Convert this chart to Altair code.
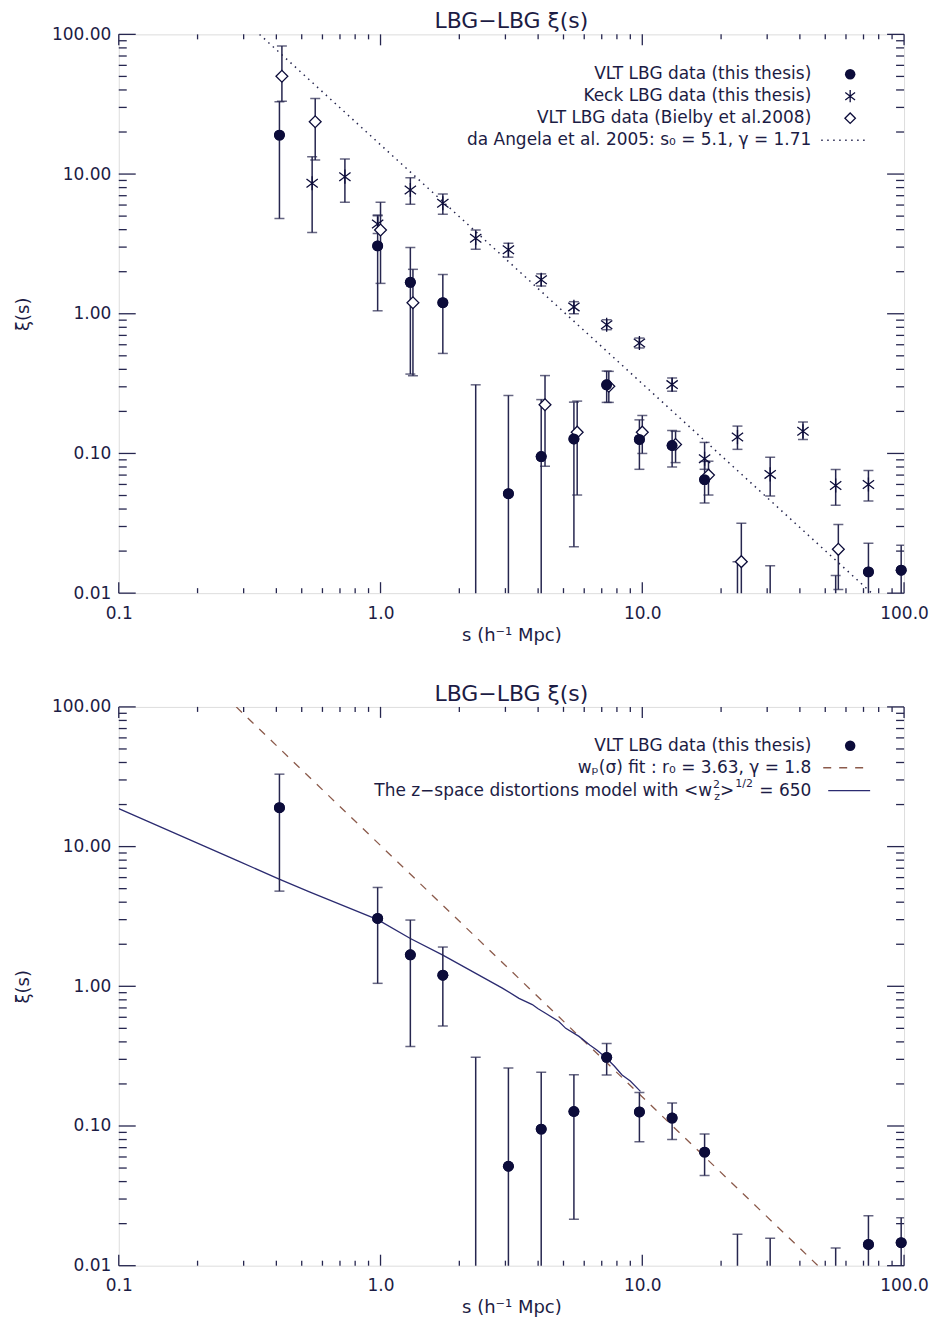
import altair as alt
import pandas as pd

# ---------------- data ----------------
# VLT LBG data (this thesis). None = no point drawn; 0.001 = error bar runs below the axis
vlt_s = [0.411, 0.975, 1.30, 1.73, 2.31, 3.08, 4.11, 5.48, 7.31, 9.75, 13.0, 17.3, 23.1, 30.8, 54.8, 73.1, 97.5]
vlt_xi = [19.0, 3.06, 1.68, 1.20, None, 0.0515, 0.095, 0.127, 0.31, 0.126, 0.114, 0.065, None, None, None, 0.0142, 0.0146]
vlt_lo = [4.8, 1.05, 0.37, 0.52, 0.001, 0.001, 0.001, 0.0215, 0.232, 0.077, 0.080, 0.0442, 0.001, 0.001, 0.001, 0.001, 0.001]
vlt_hi = [33.0, 5.1, 2.98, 1.91, 0.31, 0.26, 0.243, 0.233, 0.389, 0.174, 0.146, 0.0877, 0.0168, 0.0157, 0.0134, 0.0228, 0.022]

# Keck LBG data (this thesis)
keck_s = [0.548, 0.731, 0.975, 1.30, 1.73, 2.31, 3.08, 4.11, 5.48, 7.31, 9.75, 13.0, 17.3, 23.1, 30.8, 41.1, 54.8, 73.1]
keck_xi = [8.6, 9.58, 4.39, 7.69, 6.18, 3.47, 2.87, 1.75, 1.12, 0.834, 0.618, 0.311, 0.0917, 0.131, 0.0708, 0.144, 0.059, 0.060]
keck_lo = [3.81, 6.28, 3.75, 6.08, 5.15, 2.90, 2.54, 1.58, 1.0, 0.769, 0.569, 0.279, 0.077, 0.107, 0.0496, 0.126, 0.0425, 0.0456]
keck_hi = [13.3, 12.8, 5.03, 9.42, 7.2, 3.98, 3.2, 1.93, 1.22, 0.906, 0.67, 0.347, 0.12, 0.157, 0.094, 0.168, 0.0769, 0.0756]

# VLT LBG data (Bielby et al. 2008)
biel_s = [0.42, 0.563, 1.0, 1.33, 4.25, 5.64, 7.45, 10.0, 13.4, 17.9, 23.9, 56.1]
biel_xi = [50.1, 23.7, 3.98, 1.2, 0.223, 0.142, 0.303, 0.142, 0.116, 0.07, 0.0168, 0.0206]
biel_lo = [33.2, 12.6, 1.65, 0.36, 0.081, 0.0504, 0.232, 0.1, 0.086, 0.0504, 0.001, 0.0106]
biel_hi = [82.5, 34.8, 6.28, 2.08, 0.361, 0.237, 0.387, 0.187, 0.144, 0.088, 0.0316, 0.031]

# da Angela et al. 2005 power law (end points where it crosses the frame)
angela_s = [0.345, 75.3]
angela_xi = [100.0, 0.01]
# w_p(sigma) fit (end points where it crosses the frame)
wp_s = [0.281, 46.9]
wp_xi = [100.0, 0.01]
# z-space distortions model
zs_s = [0.1, 0.288, 0.41, 0.535, 0.975, 1.30, 1.73, 2.92, 3.38, 3.8, 4.0, 4.27, 4.8, 5.1, 5.73, 6.3, 6.7, 7.23, 7.8, 8.37, 9.0, 9.84]
zs_xi = [18.7, 7.85, 5.85, 4.74, 3.0, 2.2, 1.67, 0.97, 0.82, 0.74, 0.69, 0.641, 0.56, 0.50, 0.438, 0.38, 0.35, 0.31, 0.27, 0.232, 0.21, 0.177]

# axis ticks
major_x = [0.1, 1.0, 10.0, 100.0]
minor_x = [0.2, 0.3, 0.4, 0.5, 0.6, 0.7, 0.8, 0.9, 2, 3, 4, 5, 6, 7, 8, 9, 20, 30, 40, 50, 60, 70, 80, 90]
major_y = [0.01, 0.1, 1.0, 10.0, 100.0]
minor_y = [0.02, 0.03, 0.04, 0.05, 0.06, 0.07, 0.08, 0.09, 0.2, 0.3, 0.4, 0.5, 0.6, 0.7, 0.8, 0.9,
           2, 3, 4, 5, 6, 7, 8, 9, 20, 30, 40, 50, 60, 70, 80, 90]

title_txt = "LBG\u2212LBG \u03be(s)"
legend_top = ["VLT LBG data (this thesis)", "Keck LBG data (this thesis)",
              "VLT LBG data (Bielby et al.2008)", "da Angela et al. 2005: s\u2080 = 5.1, \u03b3 = 1.71"]
legend_bot = ["VLT LBG data (this thesis)", "w\u209a(\u03c3) fit : r\u2080 = 3.63, \u03b3 = 1.8"]
legend_bot3 = ["The z\u2212space distortions model with <w", "2", "z", ">", "1/2", " = 650"]

# ---------------- styling ----------------
W, H = 787, 560
FONT = "DejaVu Sans"
AX = "#26264f"
PT = "#0c0c3a"
TX = "#1c1c44"
BROWN = "#8b5a4b"
MODEL = "#2b2b70"
ASTER = "M0,-1L0,1M-0.8,-0.6L0.8,0.6M-0.8,0.6L0.8,-0.6"

xs = alt.Scale(type="log", domain=[0.1, 100], nice=False)
ys = alt.Scale(type="log", domain=[0.01, 100], nice=False)

x_axis = alt.Axis(values=major_x, format=".1f", ticks=False, domain=False, grid=False,
                  labelFlush=False, labelOverlap=False, labelBound=False,
                  labelFont=FONT, labelFontSize=17, labelColor=TX, labelPadding=12,
                  title="s (h\u207b\u00b9 Mpc)", titleFont=FONT, titleFontSize=18,
                  titleFontWeight="normal", titleColor=TX, titlePadding=5)
y_axis = alt.Axis(values=major_y, format=".2f", ticks=False, domain=False, grid=False,
                  labelFlush=False, labelOverlap=False, labelBound=False,
                  labelFont=FONT, labelFontSize=17, labelColor=TX, labelPadding=8,
                  title="\u03be(s)", titleFont=FONT, titleFontSize=18,
                  titleFontWeight="normal", titleColor=TX, titlePadding=19)


def X(f):
    return alt.X(f, scale=xs, axis=x_axis)


def Y(f):
    return alt.Y(f, scale=ys, axis=y_axis)


def df3(s, xi, lo, hi):
    return pd.DataFrame({"s": s, "xi": xi, "lo": lo, "hi": hi})


def tick_layers():
    out = []
    for vals, ln in ((major_x, 11), (minor_x, 5)):
        d = pd.DataFrame({"v": vals})
        for y0, y1 in ((H, H - ln), (0, ln)):
            out.append(alt.Chart(d).mark_rule(color=AX, strokeWidth=1.3).encode(
                x=X("v:Q"), y=alt.value(y0), y2=alt.value(y1)))
    for vals, ln in ((major_y, 17), (minor_y, 8)):
        d = pd.DataFrame({"v": vals})
        for x0, x1 in ((0, ln), (W, W - ln)):
            out.append(alt.Chart(d).mark_rule(color=AX, strokeWidth=1.3).encode(
                y=Y("v:Q"), x=alt.value(x0), x2=alt.value(x1)))
    return out


def errbars(d):
    bar = alt.Chart(d).mark_rule(color=AX, strokeWidth=1.5, clip=True).encode(
        x=X("s:Q"), y=Y("lo:Q"), y2="hi:Q")
    cap_hi = alt.Chart(d).mark_tick(color=AX, orient="horizontal", size=10, thickness=1.5, clip=True).encode(
        x=X("s:Q"), y=Y("hi:Q"))
    cap_lo = alt.Chart(d).mark_tick(color=AX, orient="horizontal", size=10, thickness=1.5, clip=True).encode(
        x=X("s:Q"), y=Y("lo:Q"))
    return [bar, cap_hi, cap_lo]


def vlt_points(d):
    return alt.Chart(d).mark_point(shape="circle", filled=True, size=120, color=PT, opacity=1).encode(
        x=X("s:Q"), y=Y("xi:Q"))


def line(s, xi, **kw):
    d = pd.DataFrame({"s": s, "xi": xi})
    return alt.Chart(d).mark_line(clip=True, **kw).encode(x=X("s:Q"), y=Y("xi:Q"))


def text(t, x, y, size=17, align="right"):
    return alt.Chart(pd.DataFrame({"t": [t]})).mark_text(
        font=FONT, fontSize=size, color=TX, align=align, baseline="middle").encode(
        text="t:N", x=alt.value(x), y=alt.value(y))


def sym(x, y, **kw):
    return alt.Chart(pd.DataFrame({"a": [0]})).mark_point(opacity=1, **kw).encode(
        x=alt.value(x), y=alt.value(y))


def seg(x0, x1, y, **kw):
    return alt.Chart(pd.DataFrame({"a": [0]})).mark_rule(**kw).encode(
        x=alt.value(x0), x2=alt.value(x1), y=alt.value(y))


RX = 694
SX = 733
TITLE = alt.TitleParams(title_txt, font=FONT, fontSize=22, fontWeight="normal", color=TX, offset=-8)

# ---------------- top panel ----------------
vlt = df3(vlt_s, vlt_xi, vlt_lo, vlt_hi)
keck = df3(keck_s, keck_xi, keck_lo, keck_hi)
biel = df3(biel_s, biel_xi, biel_lo, biel_hi)

top_layers = [vlt_points(vlt)]
top_layers += tick_layers()
top_layers.append(line(angela_s, angela_xi, color=AX, strokeWidth=1.5, strokeDash=[1.5, 4.5]))
top_layers += errbars(keck) + errbars(biel) + errbars(vlt)
top_layers.append(alt.Chart(keck).mark_point(shape=ASTER, filled=False, size=200, strokeWidth=1.3,
                                             color=PT, opacity=1).encode(x=X("s:Q"), y=Y("xi:Q")))
top_layers.append(alt.Chart(biel).mark_point(shape="diamond", filled=True, fill="white", stroke=PT,
                                             strokeWidth=1.3, size=140, opacity=1).encode(
    x=X("s:Q"), y=Y("xi:Q")))
top_layers.append(vlt_points(vlt))
rows = [40, 62, 84, 106]
for lab, yy in zip(legend_top, rows):
    top_layers.append(text(lab, RX, yy))
top_layers.append(sym(SX, rows[0], shape="circle", filled=True, size=110, color=PT))
top_layers.append(sym(SX, rows[1], shape=ASTER, filled=False, size=150, strokeWidth=1.3, color=PT))
top_layers.append(sym(SX, rows[2], shape="diamond", filled=False, size=110, strokeWidth=1.3, color=PT))
top_layers.append(seg(704, 751, rows[3], color=AX, strokeWidth=1.5, strokeDash=[1.5, 4.5]))

top = alt.layer(*top_layers).properties(width=W, height=H, title=TITLE)

# ---------------- bottom panel ----------------
bot_layers = [vlt_points(vlt)]
bot_layers += tick_layers()
bot_layers.append(line(wp_s, wp_xi, color=BROWN, strokeWidth=1.3, strokeDash=[8, 8]))
bot_layers.append(line(zs_s, zs_xi, color=MODEL, strokeWidth=1.3))
bot_layers += errbars(vlt)
bot_layers.append(vlt_points(vlt))
rows_b = [39, 61, 84]
for lab, yy in zip(legend_bot, rows_b):
    bot_layers.append(text(lab, RX, yy))
F, FS = 17, 11
wA = 3.382 * F
wB = 1.609 * FS
wC = 0.838 * F
wD = 0.636 * FS
xA = RX
xB = xA - wA - 1
xC = xB - wB - 1
xD = xC - wC
xE = xD - wD - 1
yb = rows_b[2]
bot_layers.append(text(legend_bot3[5], xA, yb))
bot_layers.append(text(legend_bot3[4], xB, yb - 7, size=FS))
bot_layers.append(text(legend_bot3[3], xC, yb))
bot_layers.append(text(legend_bot3[1], xD, yb - 6, size=FS))
bot_layers.append(text(legend_bot3[2], xD, yb + 6, size=FS))
bot_layers.append(text(legend_bot3[0], xE, yb))
bot_layers.append(sym(SX, rows_b[0], shape="circle", filled=True, size=110, color=PT))
bot_layers.append(seg(706, 751, rows_b[1], color=BROWN, strokeWidth=1.3, strokeDash=[8, 8]))
bot_layers.append(seg(711, 753, rows_b[2], color=MODEL, strokeWidth=1.3))

bot = alt.layer(*bot_layers).properties(width=W, height=H, title=TITLE)

chart = alt.vconcat(top, bot, spacing=37).properties(
    padding={"left": 6, "top": 0, "right": 0, "bottom": 0}).configure_view(
    stroke=AX, strokeWidth=1.5).configure(background="white")

chart.save("out.html", embed_options={"renderer": "svg", "actions": False})
